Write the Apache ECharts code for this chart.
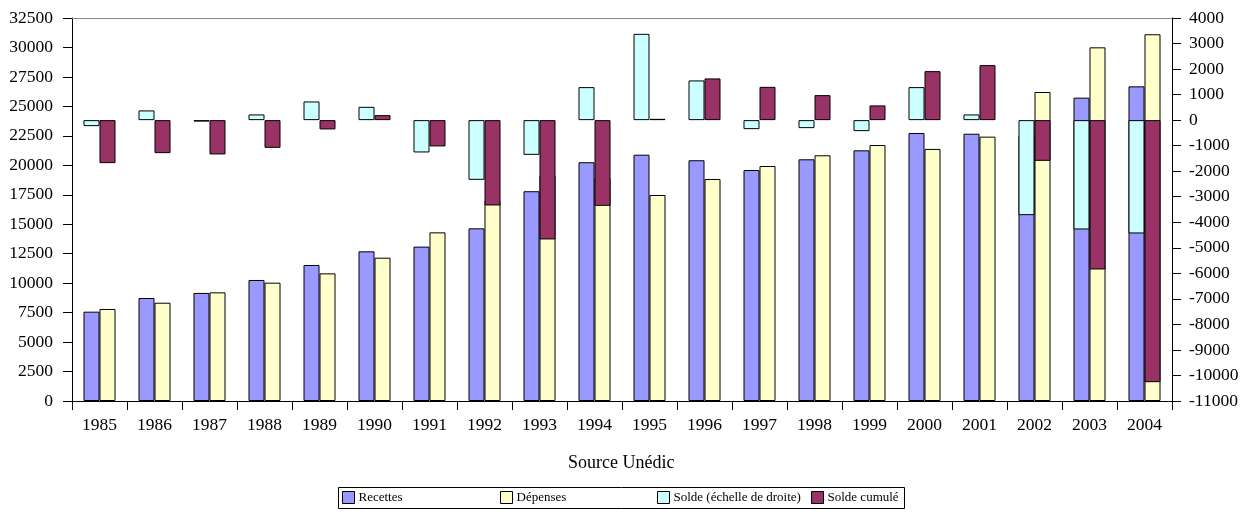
<!DOCTYPE html>
<html>
<head>
<meta charset="utf-8">
<script src="https://cdn.jsdelivr.net/npm/echarts@6/dist/echarts.min.js"></script>
<style>
html,body{margin:0;padding:0;background:#fff;}
#chart{width:1257px;height:513px;}
</style>
</head>
<body>
<div id="chart"></div>
<script>
const categories = ['1985','1986','1987','1988','1989','1990','1991','1992','1993','1994','1995','1996','1997','1998','1999','2000','2001','2002','2003','2004'];
const recettes = [7580, 8740, 9170, 10270, 11540, 12700, 13100, 14650, 17800, 20260, 20900, 20430, 19600, 20510, 21270, 22740, 22680, 22500, 25740, 26700];
const depenses = [7810, 8340, 9220, 10040, 10830, 12160, 14310, 17000, 19160, 18960, 17480, 18840, 19940, 20850, 21720, 21390, 22430, 26220, 30010, 31120];
const solde = [-235, 380, -57, 223, 732, 521, -1266, -2338, -1359, 1293, 3380, 1555, -353, -313, -431, 1293, 223, -3721, -4282, -4438];
const soldeCumule = [-1684, -1293, -1344, -1085, -364, 196, -1030, -3341, -4673, -3357, 51, 1633, 1304, 979, 576, 1919, 2154, -1594, -5849, -10262];
const seriesNames = ['Recettes', 'Dépenses', 'Solde (échelle de droite)', 'Solde cumulé'];
const sourceText = 'Source Unédic';

const FONT = "'Liberation Serif', 'Times New Roman', serif";
const chart = echarts.init(document.getElementById('chart'));
const border = {borderColor:'#000', borderWidth:1};
const legendLefts = [342, 500, 657, 811];
const legends = seriesNames.map(function(n, i){
  return {
    data:[n], left:legendLefts[i], top:491, orient:'horizontal',
    icon:'rect', itemWidth:12, itemHeight:12, itemGap:0, padding:0,
    selectedMode:false,
    itemStyle:{borderColor:'#000', borderWidth:1},
    textStyle:{color:'#000', fontSize:13, fontFamily:FONT, padding:[0,0,0,-1]}
  };
});
chart.setOption({
  animation:false,
  backgroundColor:'#fff',
  textStyle:{fontFamily:FONT},
  grid:{left:72, right:85, top:18, bottom:112},
  xAxis:[
    {type:'category', data:categories, position:'bottom',
     axisLine:{onZero:false, lineStyle:{color:'#000', width:1}},
     axisTick:{show:true, length:9, lineStyle:{color:'#000'}},
     axisLabel:{color:'#000', fontSize:17.5, fontFamily:FONT, margin:15}},
    {type:'category', data:categories, position:'top',
     axisLine:{onZero:false, lineStyle:{color:'#888', width:1}},
     axisTick:{show:false}, axisLabel:{show:false}}
  ],
  yAxis:[
    {type:'value', min:0, max:32500, interval:2500, position:'left',
     axisLine:{show:true, lineStyle:{color:'#000'}},
     axisTick:{show:true, length:9, lineStyle:{color:'#000'}},
     splitLine:{show:false},
     axisLabel:{color:'#000', fontSize:17.5, fontFamily:FONT, margin:19, formatter:function(v){return String(v);}}},
    {type:'value', min:-11000, max:4000, interval:1000, position:'right',
     axisLine:{show:true, lineStyle:{color:'#000'}},
     axisTick:{show:true, length:9, lineStyle:{color:'#000'}},
     splitLine:{show:false},
     axisLabel:{color:'#000', fontSize:17.5, fontFamily:FONT, margin:17, formatter:function(v){return String(v);}}}
  ],
  legend:legends,
  graphic:[
    {type:'rect', shape:{x:338.5, y:487.5, width:566, height:21},
     style:{fill:'#fff', stroke:'#000', lineWidth:1}, z:-1},
    {type:'text', left:622 - 54, top:454,
     style:{text:sourceText, font:'18px ' + FONT, fill:'#000'}}
  ],
  series:[
    {name:seriesNames[0], type:'bar', xAxisIndex:0, yAxisIndex:0, data:recettes,
     barWidth:16, barGap:'0%', itemStyle:Object.assign({color:'#9999FF'}, border)},
    {name:seriesNames[1], type:'bar', xAxisIndex:0, yAxisIndex:0, data:depenses,
     barWidth:16, barGap:'0%', itemStyle:Object.assign({color:'#FFFFCC'}, border)},
    {name:seriesNames[2], type:'bar', xAxisIndex:1, yAxisIndex:1, data:solde,
     barWidth:16, barGap:'0%', itemStyle:Object.assign({color:'#CCFFFF'}, border)},
    {name:seriesNames[3], type:'bar', xAxisIndex:1, yAxisIndex:1, data:soldeCumule,
     barWidth:16, barGap:'0%', itemStyle:Object.assign({color:'#993366'}, border)}
  ]
});
</script>
</body>
</html>
